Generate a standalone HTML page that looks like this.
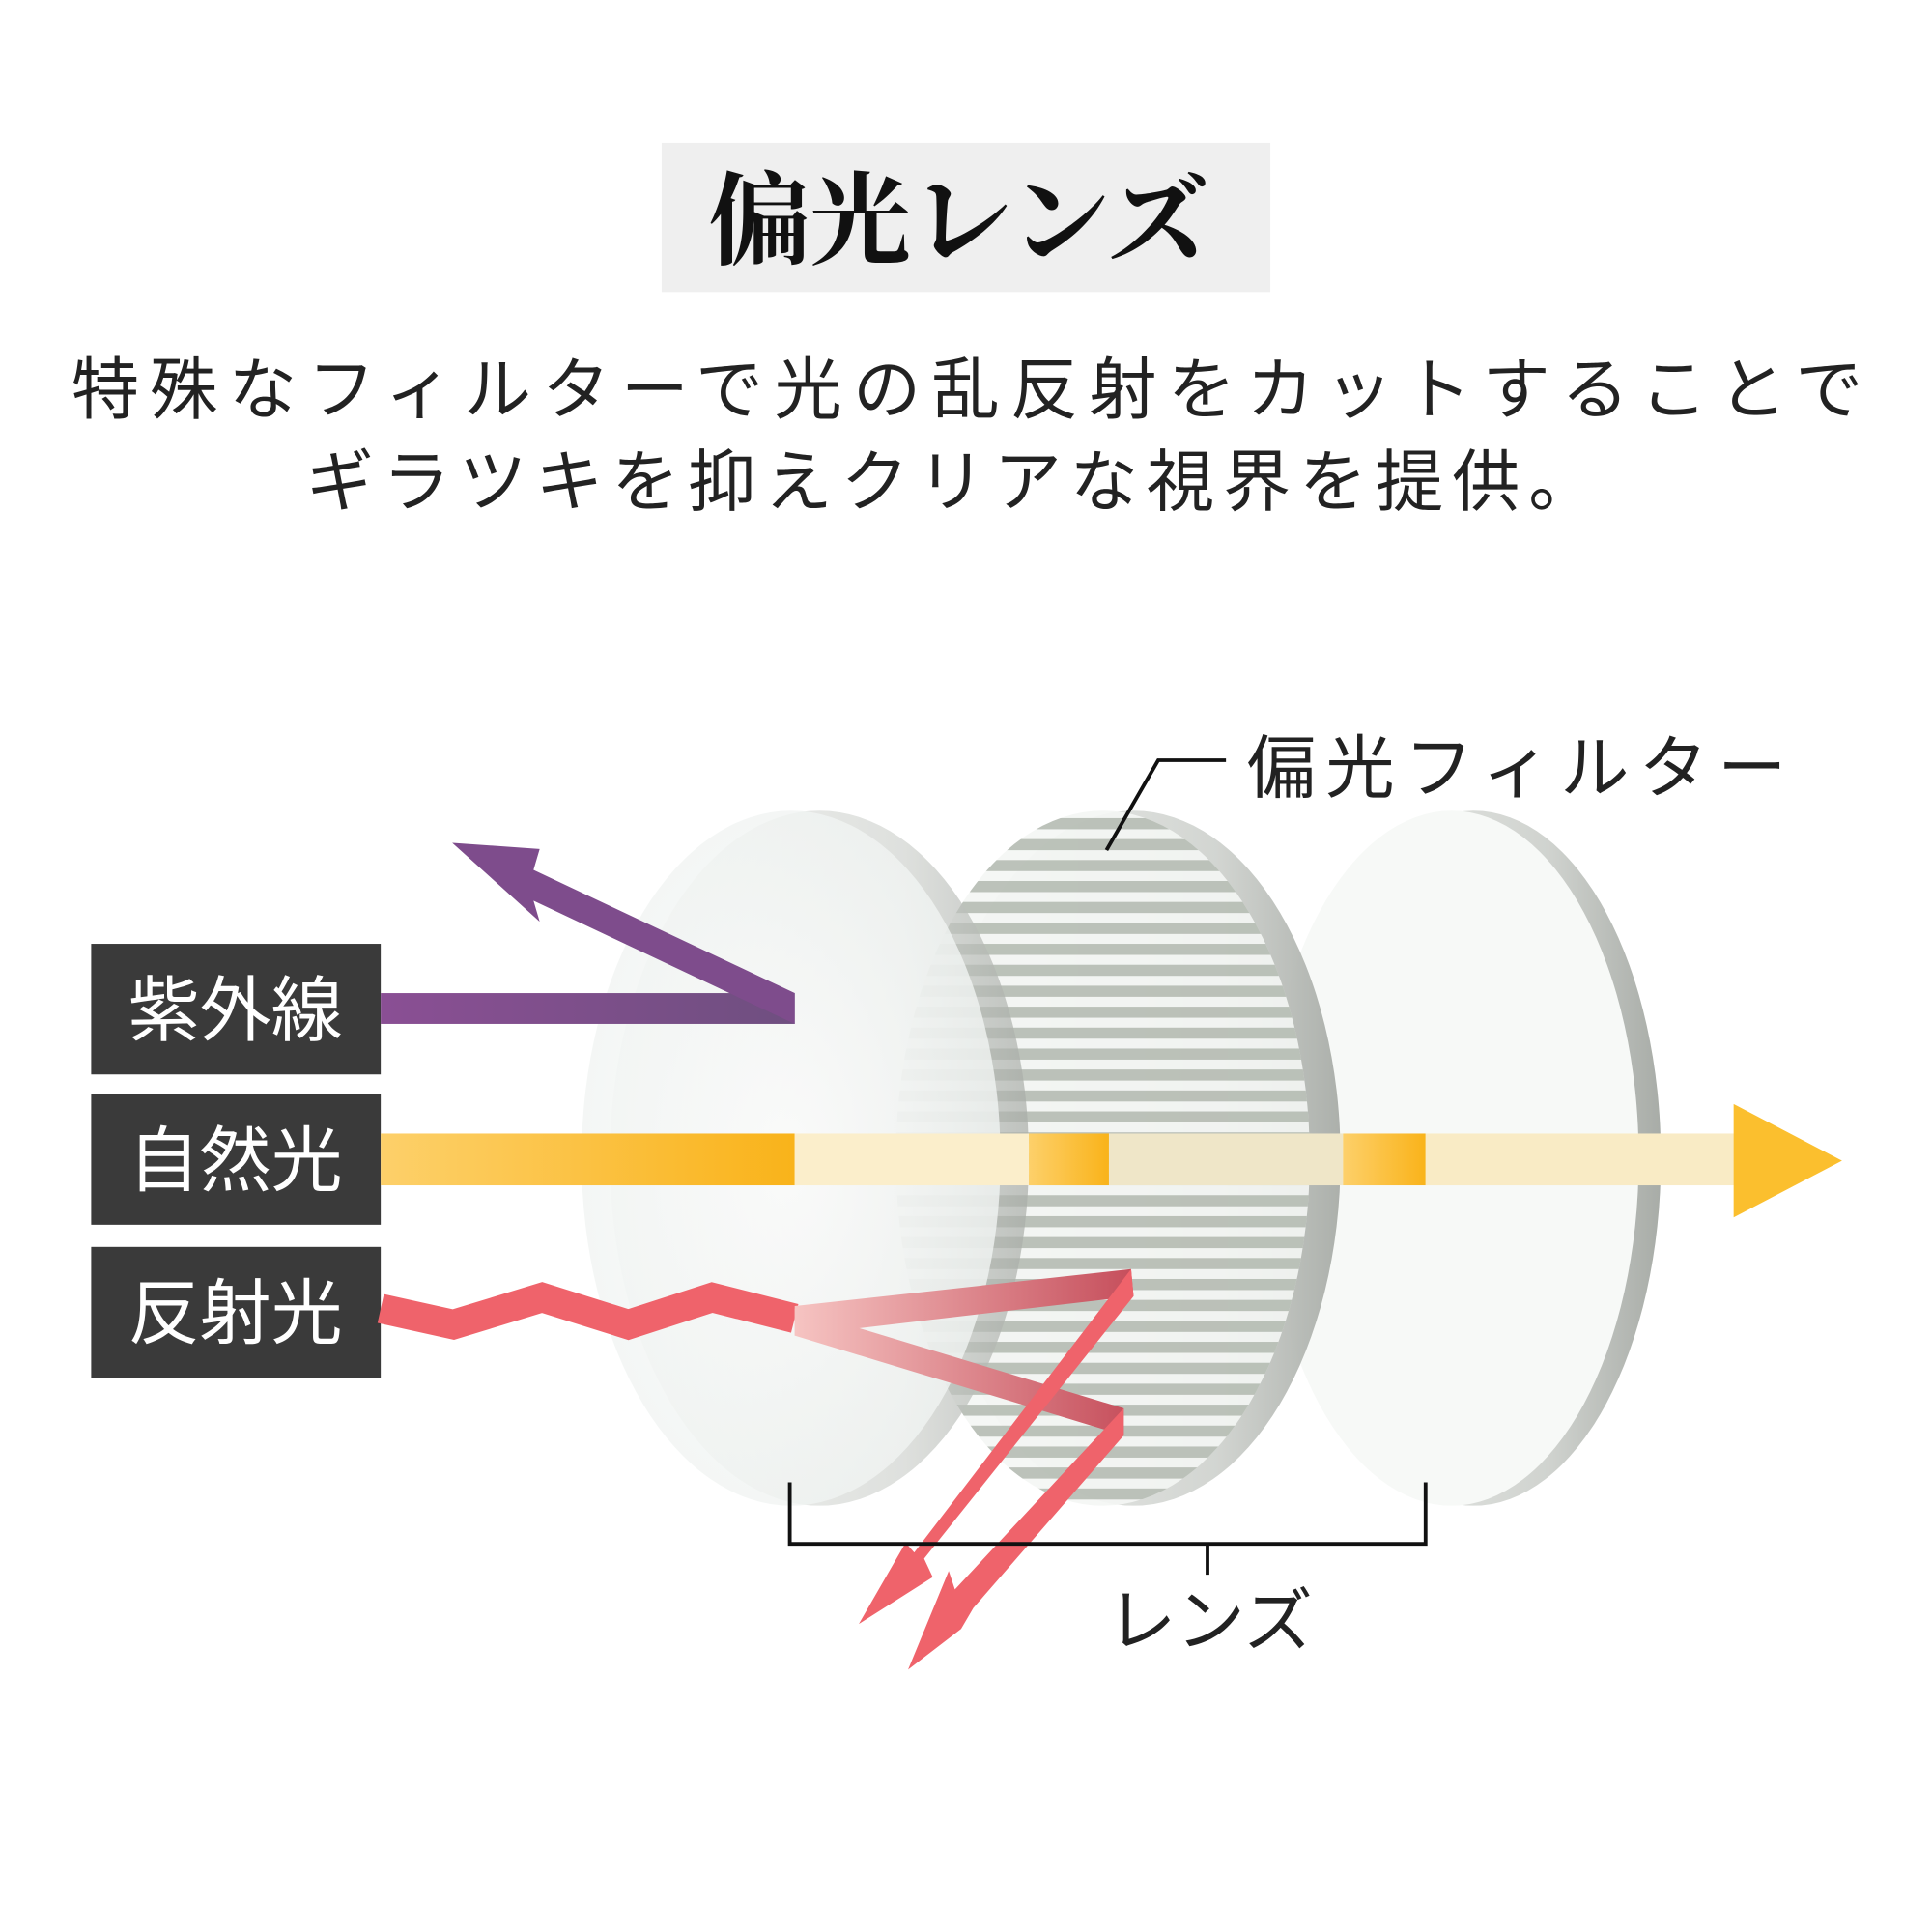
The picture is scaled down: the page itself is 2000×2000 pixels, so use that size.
<!DOCTYPE html>
<html><head><meta charset="utf-8"><style>
html,body{margin:0;padding:0;background:#fff;}
svg{display:block;}
</style></head><body>
<svg width="2000" height="2000" viewBox="0 0 1568 1568" xmlns="http://www.w3.org/2000/svg">
<defs>
<linearGradient id="rim" x1="0" y1="0" x2="1" y2="0">
<stop offset="0" stop-color="#eef0ee"/><stop offset="0.7" stop-color="#d0d3cf"/><stop offset="1" stop-color="#a8aca7"/>
</linearGradient>
<radialGradient id="face" cx="0.5" cy="0.5" r="0.6">
<stop offset="0" stop-color="#ffffff" stop-opacity="0.8"/><stop offset="1" stop-color="#eef2f0" stop-opacity="0.8"/>
</radialGradient>
<clipPath id="fclip"><ellipse cx="895" cy="940" rx="168" ry="282"/></clipPath>
<linearGradient id="ylw" x1="0" y1="0" x2="1" y2="0">
<stop offset="0" stop-color="#fdd06a"/><stop offset="1" stop-color="#f9b31a"/>
</linearGradient>
<linearGradient id="pur" x1="0" y1="0" x2="1" y2="0">
<stop offset="0" stop-color="#8a4f94"/><stop offset="1" stop-color="#6f4f80"/>
</linearGradient>
<linearGradient id="red1" x1="645" y1="0" x2="918" y2="0" gradientUnits="userSpaceOnUse">
<stop offset="0" stop-color="#f6c4c2"/><stop offset="1" stop-color="#c64f5c"/>
</linearGradient>
</defs>

<!-- Title -->
<rect x="537" y="116" width="494" height="121" fill="#efefef"/>
<text x="778" y="208" text-anchor="middle" font-family="'Liberation Serif','Noto Serif CJK SC',serif" font-weight="bold" font-size="82" fill="#111">偏光レンズ</text>
<text x="785" y="335" text-anchor="middle" font-family="'Liberation Sans','Noto Sans CJK JP',sans-serif" font-size="55" fill="#222" textLength="1454">特殊なフィルターで光の乱反射をカットすることで</text>
<text x="772" y="410" text-anchor="middle" font-family="'Liberation Sans','Noto Sans CJK JP',sans-serif" font-size="55" fill="#222" textLength="1047">ギラツキを抑えクリアな視界を提供。</text>

<!-- labels -->
<g font-family="'Liberation Sans','Noto Sans CJK JP',sans-serif" font-size="58" fill="#fff" text-anchor="middle">
<rect x="74" y="766" width="235" height="106" fill="#3a3a3a"/><text x="191" y="840">紫外線</text>
<rect x="74" y="888" width="235" height="106" fill="#3a3a3a"/><text x="191" y="962">自然光</text>
<rect x="74" y="1012" width="235" height="106" fill="#3a3a3a"/><text x="191" y="1086">反射光</text>
</g>

<!-- Lens 3 (back) -->
<ellipse cx="1196" cy="940" rx="152" ry="282" fill="url(#rim)"/>
<ellipse cx="1178" cy="940" rx="152" ry="282" fill="#f7f9f7"/>

<!-- Lens 2 (filter) -->
<ellipse cx="920" cy="940" rx="168" ry="282" fill="url(#rim)" opacity="0.95"/>
<ellipse cx="895" cy="940" rx="168" ry="282" fill="#f4f6f4" opacity="0.9"/>
<g clip-path="url(#fclip)" fill="#a9b0a6" opacity="0.75">
<rect x="700" y="664" width="400" height="9"/>
<rect x="700" y="681" width="400" height="9"/>
<rect x="700" y="698" width="400" height="9"/>
<rect x="700" y="715" width="400" height="9"/>
<rect x="700" y="732" width="400" height="9"/>
<rect x="700" y="749" width="400" height="9"/>
<rect x="700" y="766" width="400" height="9"/>
<rect x="700" y="783" width="400" height="9"/>
<rect x="700" y="800" width="400" height="9"/>
<rect x="700" y="817" width="400" height="9"/>
<rect x="700" y="834" width="400" height="9"/>
<rect x="700" y="851" width="400" height="9"/>
<rect x="700" y="868" width="400" height="9"/>
<rect x="700" y="885" width="400" height="9"/>
<rect x="700" y="902" width="400" height="9"/>
<rect x="700" y="919" width="400" height="9"/>
<rect x="700" y="936" width="400" height="9"/>
<rect x="700" y="953" width="400" height="9"/>
<rect x="700" y="970" width="400" height="9"/>
<rect x="700" y="987" width="400" height="9"/>
<rect x="700" y="1004" width="400" height="9"/>
<rect x="700" y="1021" width="400" height="9"/>
<rect x="700" y="1038" width="400" height="9"/>
<rect x="700" y="1055" width="400" height="9"/>
<rect x="700" y="1072" width="400" height="9"/>
<rect x="700" y="1089" width="400" height="9"/>
<rect x="700" y="1106" width="400" height="9"/>
<rect x="700" y="1123" width="400" height="9"/>
<rect x="700" y="1140" width="400" height="9"/>
<rect x="700" y="1157" width="400" height="9"/>
<rect x="700" y="1174" width="400" height="9"/>
<rect x="700" y="1191" width="400" height="9"/>
<rect x="700" y="1208" width="400" height="9"/>
</g>

<!-- Lens 1 (front) -->
<ellipse cx="665" cy="940" rx="170" ry="282" fill="url(#rim)" opacity="0.7"/>
<ellipse cx="642" cy="940" rx="170" ry="282" fill="url(#face)"/>

<!-- Purple arrow -->
<rect x="309" y="806" width="336" height="25" fill="url(#pur)"/>
<polygon points="645,806 645,831 433,731 438,748 367,684 438,689 433,706" fill="#7e4c8c"/>

<!-- yellow -->
<rect x="309" y="920" width="336" height="42" fill="url(#ylw)"/>
<rect x="645" y="920" width="190" height="42" fill="#fbeecb"/>
<rect x="835" y="920" width="65" height="42" fill="url(#ylw)"/>
<rect x="900" y="920" width="190" height="42" fill="#efe6c8"/>
<rect x="1090" y="920" width="67" height="42" fill="url(#ylw)"/>
<rect x="1157" y="920" width="253" height="42" fill="#f9ebc5"/>
<polygon points="1407,896 1495,942 1407,988" fill="#fbbf2e"/>

<!-- Reflected light -->
<polyline points="309,1062 368,1075 440,1053 510,1075 578,1053 645,1070" fill="none" stroke="#ef636b" stroke-width="24" stroke-linejoin="miter"/>
<polygon points="645,1060 918,1030 920,1052 645,1084" fill="url(#red1)"/>
<polygon points="645,1062 912,1143 912,1165 645,1084" fill="url(#red1)"/>
<polygon points="918,1030 920,1052 750,1265 757,1280 697,1318 735,1252 742,1260" fill="#ef636b"/>
<polygon points="912,1143 912,1165 790,1305 780,1322 737,1355 770,1275 775,1290" fill="#ef636b"/>

<!-- bracket -->
<polyline points="641,1203 641,1253 1157,1253 1157,1203" fill="none" stroke="#111" stroke-width="3"/>
<line x1="980" y1="1253" x2="980" y2="1278" stroke="#111" stroke-width="3"/>
<text x="982" y="1335" text-anchor="middle" font-family="'Liberation Sans','Noto Sans CJK JP',sans-serif" font-size="56" fill="#222">レンズ</text>

<!-- filter label -->
<polyline points="898,690 940,617 995,617" fill="none" stroke="#111" stroke-width="3"/>
<text x="1012" y="643" font-family="'Liberation Sans','Noto Sans CJK JP',sans-serif" font-size="56" fill="#222" textLength="438">偏光フィルター</text>
</svg>
</body></html>
